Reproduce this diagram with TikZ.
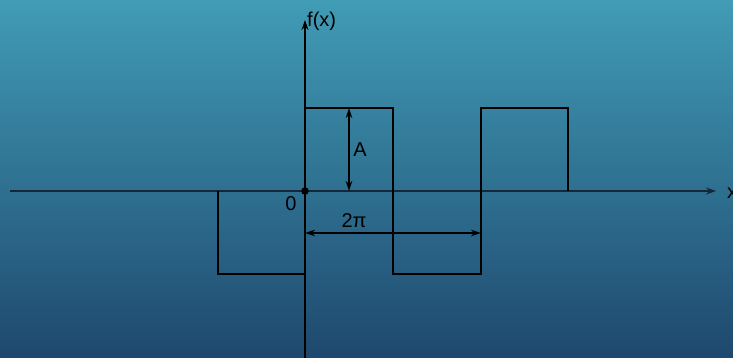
\documentclass[tikz,border=0pt]{standalone}
\usepackage{fontspec}
\setmainfont{Liberation Sans}
\usetikzlibrary{arrows.meta}
\definecolor{bgtop}{RGB}{65,156,182}
\definecolor{bgbot}{RGB}{30,72,110}
\definecolor{axiscol}{RGB}{22,40,55}
\tikzset{
  axisline/.style={draw=axiscol, line width=1.5pt, -{Stealth[length=10pt,width=7pt]}},
  wave/.style={draw=black, line width=2pt},
  dimline/.style={draw=black, line width=1.1pt, {Stealth[length=10pt,width=6.5pt]}-{Stealth[length=10pt,width=6.5pt]}},
  lbl/.style={font=\fontsize{20}{21}\selectfont, inner sep=0pt, text=black}
}
\begin{document}
\begin{tikzpicture}[x=1pt,y=-1pt]
\shade[top color=bgtop, bottom color=bgbot, shading angle=0] (0,0) rectangle (733,358);
\useasboundingbox (0,0) rectangle (733,358);
% axes
\coordinate (xs) at (10,191);
\coordinate (xe) at (716,191);
\coordinate (ys) at (305,358);
\coordinate (ye) at (305,20);
\draw[axisline] (xs) -- (xe);
\draw[draw=black, line width=1.5pt, -{Stealth[length=10pt,width=7pt]}] (ys) -- (ye);
\node[lbl, anchor=west] (xl) at (727,193) {x};
\node[lbl, anchor=south west] (fl) at (307,31) {f(x)};
\node[lbl] (zero) at (291,204) {0};
% waveform
\draw[wave] (218,191) -- (218,274) -- (305,274) -- (305,108) -- (393,108) -- (393,274) -- (481,274) -- (481,108) -- (568,108) -- (568,191);
\fill[black] (305,191) circle (3.8);
% dimension arrows
\coordinate (a1) at (349,108);
\coordinate (a2) at (349,191);
\draw[dimline] (a1) -- (a2);
\node[lbl] (A) at (360,150) {A};
\coordinate (p1) at (305,233);
\coordinate (p2) at (481,233);
\draw[dimline] (p1) -- (p2);
\node[lbl] (tp) at (354,221) {2π};
\end{tikzpicture}
\end{document}
